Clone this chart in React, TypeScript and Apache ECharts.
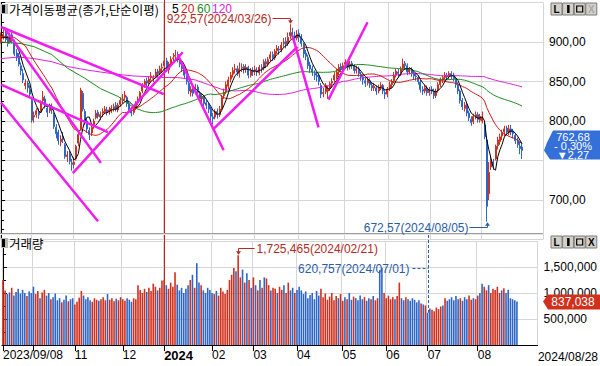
import React, { useEffect, useRef } from "react";
import * as echarts from "echarts";

// KRX trading days per month
const tradingDays: [string, number[]][] = [
  ["2023/09", [8, 11, 12, 13, 14, 15, 18, 19, 20, 21, 22, 25, 26, 27]],
  ["2023/10", [4, 5, 6, 10, 11, 12, 13, 16, 17, 18, 19, 20, 23, 24, 25, 26, 27, 30, 31]],
  ["2023/11", [1, 2, 3, 6, 7, 8, 9, 10, 13, 14, 15, 16, 17, 20, 21, 22, 23, 24, 27, 28, 29, 30]],
  ["2023/12", [1, 4, 5, 6, 7, 8, 11, 12, 13, 14, 15, 18, 19, 20, 21, 22, 26, 27, 28]],
  ["2024/01", [2, 3, 4, 5, 8, 9, 10, 11, 12, 15, 16, 17, 18, 19, 22, 23, 24, 25, 26, 29, 30, 31]],
  ["2024/02", [1, 2, 5, 6, 7, 8, 13, 14, 15, 16, 19, 20, 21, 22, 23, 26, 27, 28, 29]],
  ["2024/03", [4, 5, 6, 7, 8, 11, 12, 13, 14, 15, 18, 19, 20, 21, 22, 25, 26, 27, 28, 29]],
  ["2024/04", [1, 2, 3, 4, 5, 8, 9, 11, 12, 15, 16, 17, 18, 19, 22, 23, 24, 25, 26, 29, 30]],
  ["2024/05", [2, 3, 7, 8, 9, 10, 13, 14, 16, 17, 20, 21, 22, 23, 24, 27, 28, 29, 30, 31]],
  ["2024/06", [3, 4, 5, 7, 10, 11, 12, 13, 14, 17, 18, 19, 20, 21, 24, 25, 26, 27, 28]],
  ["2024/07", [1, 2, 3, 4, 5, 8, 9, 10, 11, 12, 15, 16, 17, 18, 19, 22, 23, 24, 25, 26, 29, 30, 31]],
  ["2024/08", [1, 2, 5, 6, 7, 8, 9, 12, 13, 14, 16, 19, 20, 21, 22, 23, 26, 27, 28]],
];

// [open, close, low, high]
const candlesSep = [[900,905,898,912],[906,910,903,916],[911,903,900,914],[904,898,894,908],[900,908,898,912],[909,902,898,913],[900,885,882,903],[886,880,876,891],[882,872,869,886],[870,864,858,874],[860,852,848,866],[845,848,840,853],[848,842,836,851],[840,834,830,845]];
const candlesOct = [[826,801,798,828],[805,807,798,812],[808,813,804,816],[812,808,803,816],[812,823,810,826],[826,830,822,838],[828,820,816,832],[816,811,805,820],[813,817,810,822],[818,814,809,822],[808,793,790,811],[792,784,778,796],[786,775,770,789],[774,777,768,782],[780,777,772,786],[770,755,752,772],[755,757,748,762],[758,749,745,762],[747,745,737,752]];
const candlesNov = [[745,748,740,754],[752,768,750,770],[772,783,768,786],[790,839,788,842],[835,815,812,838],[812,798,795,815],[800,790,785,803],[788,783,776,792],[785,792,781,796],[793,800,790,803],[804,810,802,814],[811,806,803,814],[805,808,801,812],[810,812,805,816],[812,815,809,819],[814,811,807,818],[812,814,808,818],[813,816,810,820],[816,818,812,822],[820,815,812,824],[814,820,811,823],[821,826,818,830]];
const candlesDec = [[826,828,822,834],[830,833,826,838],[830,822,818,832],[822,815,811,825],[814,810,806,818],[811,816,808,819],[817,822,814,825],[823,828,820,831],[828,836,825,838],[838,845,835,848],[846,850,842,853],[851,848,844,855],[849,853,846,857],[855,857,851,862],[854,855,849,858],[857,862,854,866],[863,860,856,866],[861,866,858,870],[867,868,862,873]];
const candlesJan = [[870,876,866,880],[876,866,862,880],[865,872,860,875],[872,878,868,882],[879,880,874,886],[882,883,876,890],[884,878,874,888],[879,872,868,883],[872,866,862,876],[866,858,854,868],[858,850,846,861],[848,838,834,851],[836,840,831,844],[841,835,831,845],[838,842,834,847],[843,836,832,846],[835,828,824,838],[828,830,822,834],[830,822,818,833],[823,820,815,827],[820,815,810,823],[815,806,800,818]];
const candlesFeb = [[805,803,796,810],[805,812,802,815],[812,808,803,816],[808,815,805,819],[816,830,814,833],[832,836,828,841],[837,846,834,850],[844,852,840,856],[853,858,849,862],[859,864,855,868],[865,866,860,872],[866,862,857,870],[860,866,855,874],[867,868,862,873],[869,865,860,872],[866,868,861,872],[868,858,854,870],[858,864,855,867],[864,862,857,868]];
const candlesMar = [[864,865,858,870],[864,862,857,868],[861,868,858,871],[868,866,861,872],[867,875,864,878],[875,872,867,879],[872,878,869,881],[879,884,875,888],[884,880,876,888],[880,888,877,891],[889,892,885,896],[891,890,884,895],[890,896,887,900],[898,900,894,905],[901,897,892,906],[898,906,895,912],[908,912,904,922.57],[912,908,903,918],[908,905,900,913],[905,910,902,915]];
const candlesApr = [[911,906,900,916],[906,898,894,910],[897,885,880,899],[886,882,877,890],[880,870,866,884],[871,866,861,875],[866,862,857,870],[860,858,852,864],[858,856,850,862],[856,850,845,860],[845,834,829,848],[835,836,830,842],[837,845,834,848],[838,840,828,845],[841,847,838,850],[848,850,843,854],[852,858,849,862],[856,862,853,866],[862,868,858,872],[869,866,862,873],[866,870,862,874]];
const candlesMay = [[872,874,866,878],[874,868,864,877],[870,872,865,876],[873,870,866,876],[869,864,860,872],[864,866,860,870],[866,860,856,869],[859,856,851,862],[856,852,846,859],[851,848,843,855],[848,852,845,856],[851,846,842,854],[845,842,838,849],[842,844,838,848],[842,838,833,845],[838,842,835,846],[843,845,839,849],[845,838,834,847],[836,834,828,839],[834,840,830,843]];
const candlesJun = [[841,846,838,850],[846,850,842,853],[851,858,848,862],[858,863,855,866],[862,860,855,866],[860,866,857,869],[867,872,864,879],[873,870,865,876],[870,862,858,873],[862,865,859,868],[865,860,856,868],[860,857,852,863],[857,856,851,861],[855,850,846,858],[849,840,836,852],[840,838,833,844],[838,842,835,846],[842,836,832,845],[836,840,832,843]];
const candlesJul = [[840,838,834,844],[838,832,828,841],[832,838,829,841],[839,846,836,849],[846,852,843,855],[852,855,848,858],[855,858,851,862],[858,856,852,861],[856,860,853,863],[860,858,853,863],[858,854,850,861],[853,846,842,856],[846,838,834,849],[838,826,822,840],[826,818,814,829],[816,820,812,824],[820,810,806,823],[810,804,800,813],[802,798,794,806],[799,806,796,809],[805,808,802,812],[808,802,798,811],[801,806,798,809]];
const candlesAug = [[800,804,797,812],[795,780,777,798],[776,692,672.57,779],[708,735,700,748],[742,750,738,756],[748,744,738,752],[752,768,750,770],[769,776,764,780],[774,780,770,784],[781,785,776,789],[786,790,781,794],[791,786,782,794],[785,790,782,795],[790,786,782,795],[787,784,778,790],[782,775,771,785],[776,770,766,779],[768,764.95,758,774],[767,762.68,752,772]];

const volSep = [1250000,1050000,980000,1010000,1100000,950000,1020000,1080000,990000,1060000,1000000,940000,1030000,1000000];
const volOct = [1120000,980000,1040000,900000,1010000,1060000,950000,1000000,880000,920000,990000,860000,900000,820000,870000,950000,840000,880000,900000];
const volNov = [780000,830000,910000,1040000,950000,880000,920000,860000,830000,900000,870000,850000,880000,920000,860000,980000,870000,900000,840000,890000,860000,920000];
const volDec = [880000,850000,900000,870000,830000,900000,880000,1150000,1060000,1000000,1080000,1020000,1100000,1040000,1180000,1120000,1050000,1100000,1240000];
const volJan = [1250000,1150000,1080000,1200000,1120000,1400000,1160000,1050000,1100000,1000000,1080000,1150000,1250000,1350000,1100000,1570000,1200000,1150000,1050000,1000000,1100000,1060000];
const volFeb = [1000000,980000,1040000,950000,1100000,1030000,980000,1060000,1250000,1350000,1480000,1420000,1725465,1300000,1450000,1200000,1380000,1250000,1100000];
const volMar = [1300000,1150000,1050000,1250000,1100000,1300000,1280000,1150000,1050000,1100000,1080000,1000000,1120000,1060000,1150000,1000000,1200000,1050000,1100000,1000000];
const volApr = [1060000,1120000,1050000,980000,1030000,900000,960000,1000000,880000,1040000,950000,1080000,920000,990000,870000,930000,1000000,860000,940000,900000,980000];
const volMay = [850000,920000,880000,1000000,870000,930000,900000,860000,950000,880000,920000,850000,900000,880000,940000,860000,900000,1440000,1480000,1000000];
const volJun = [900000,950000,880000,920000,880000,940000,1200000,900000,860000,920000,880000,850000,900000,870000,820000,860000,800000,780000,760000];
const volJul = [620757,700000,680000,650000,720000,690000,740000,760000,900000,850000,880000,920000,860000,940000,880000,900000,850000,920000,880000,950000,870000,900000,880000];
const volAug = [950000,1000000,1180000,1120000,1050000,1150000,1000000,1080000,1060000,1120000,1000000,1050000,1090000,1000000,1060000,900000,880000,860000,837038];

// moving-average values read before a full window exists: [dayIndex, value]
const ma5Head = [[0, 905], [2, 906]];
const ma20Head = [[0, 907], [6, 906], [11, 895], [15, 876]];
const ma60Head = [[0, 900], [9, 898], [15, 894], [23, 884], [30, 867], [38, 854], [45, 841], [53, 831], [57, 823]];
const ma120Head = [[0, 879], [8, 881], [15, 879], [23, 875], [30, 869], [38, 865], [45, 862], [53, 859], [60, 857], [68, 856], [74, 855], [80, 855], [88, 852], [94, 846], [100, 840], [106, 838], [112, 839], [117, 836]];

// hand-drawn trend lines: [dayIndex, price] endpoints
const trendLines = [
  [[0, 919], [73.7, 834]],
  [[1.4, 918], [45.2, 747]],
  [[0, 846], [48.4, 786]],
  [[0, 823], [43.9, 673]],
  [[32.5, 734], [82.3, 887]],
  [[80, 884], [100.8, 763]],
  [[95.9, 789], [134.3, 894]],
  [[132, 908], [143.8, 792]],
  [[148.3, 827], [166, 925]],
];

const maPeriods = [5, 20, 60, 120];
const maColors = ["#000000", "#cc1c1c", "#1e8a1e", "#e020e0"];
const hiddenMonthLabels = ["2023/10"];
const PAD = 9;

const dates = tradingDays.flatMap(([ym, ds]) => ds.map((d) => `${ym}/${String(d).padStart(2, "0")}`));
const candles = [...candlesSep, ...candlesOct, ...candlesNov, ...candlesDec, ...candlesJan, ...candlesFeb, ...candlesMar, ...candlesApr, ...candlesMay, ...candlesJun, ...candlesJul, ...candlesAug];
const volumes = [...volSep, ...volOct, ...volNov, ...volDec, ...volJan, ...volFeb, ...volMar, ...volApr, ...volMay, ...volJun, ...volJul, ...volAug];
const categories = [...dates, ...Array.from({ length: PAD }, (_, i) => `pad${i}`)];
const N = categories.length;
const closes = candles.map((c) => c[1]);

function movingAverage(period: number, head: number[][]) {
  const out = head.map((p) => [p[0], p[1]]);
  for (let i = period - 1; i < closes.length; i++) {
    let s = 0;
    for (let k = i - period + 1; k <= i; k++) s += closes[k];
    out.push([i, +(s / period).toFixed(2)]);
  }
  return out;
}

const monthStart = categories.map((d, i) => i < dates.length && (i === 0 || d.slice(0, 7) !== dates[i - 1].slice(0, 7)));

const UP = "#d2301c";
const DOWN = "#2d66c6";
const GRIDC = "#d6d6d6";
const FONT = "Liberation Sans, Arial, sans-serif";
const KFONT = "Noto Sans CJK KR, sans-serif";
const fmt2 = (v: number) => v.toFixed(2).replace(".", ",");
const fmtInt = (v: number) => Math.round(v).toLocaleString("en-US");

export default function App() {
  const ref = useRef<HTMLDivElement>(null);
  useEffect(() => {
    document.body.style.margin = "0";
    const chart = echarts.init(ref.current!, null, { renderer: "svg" });
    const lastClose = closes[closes.length - 1];
    const prevClose = closes[closes.length - 2];
    const heads = [ma5Head, ma20Head, ma60Head, ma120Head];

    const option: any = {
      animation: false,
      backgroundColor: "#ffffff",
      grid: [
        { left: -1, right: 57, top: 2.5, height: 237 },
        { left: -1, right: 57, top: 241, height: 104 },
      ],
      xAxis: [
        {
          type: "category", gridIndex: 0, data: categories, boundaryGap: true,
          axisLine: { show: false }, axisTick: { show: false }, axisLabel: { show: false },
          splitLine: { show: true, interval: (i: number) => monthStart[i], lineStyle: { color: GRIDC, width: 1 } },
        },
        { type: "value", gridIndex: 0, min: -0.5, max: N - 0.5, show: false },
        {
          type: "category", gridIndex: 1, data: categories, boundaryGap: true,
          axisLine: { show: true, lineStyle: { color: "#000", width: 1 } },
          axisTick: { show: true, alignWithLabel: true, interval: (i: number) => monthStart[i], length: 6, lineStyle: { color: "#000" } },
          axisLabel: {
            show: true,
            interval: (i: number) => monthStart[i] && !hiddenMonthLabels.includes(categories[i].slice(0, 7)),
            formatter: (v: string, i: number) => (i === 0 ? v : v.slice(5, 7) === "01" ? `{y|${v.slice(0, 4)}}` : v.slice(5, 7)),
            align: "left", margin: 4, color: "#000", fontSize: 12, fontFamily: FONT,
            rich: { y: { fontWeight: "bold", fontSize: 13, fontFamily: FONT, color: "#000" } },
          },
          splitLine: { show: true, interval: (i: number) => monthStart[i], lineStyle: { color: GRIDC, width: 1 } },
        },
        { type: "value", gridIndex: 1, min: -0.5, max: N - 0.5, show: false },
      ],
      yAxis: [
        {
          type: "value", gridIndex: 0, position: "right", min: 650, max: 950, interval: 50,
          axisLine: { show: true, lineStyle: { color: "#000" } },
          axisTick: { show: true, length: 4, lineStyle: { color: "#000" } },
          minorTick: { show: true, splitNumber: 4, length: 3, lineStyle: { color: "#000" } },
          axisLabel: {
            margin: 6, color: "#000", fontSize: 12, fontFamily: FONT,
            formatter: (v: number) => (v <= 650 || v >= 950 || Math.abs(v - lastClose) < 20 ? "" : fmt2(v)),
          },
          splitLine: { show: true, lineStyle: { color: GRIDC } },
        },
        {
          type: "value", gridIndex: 1, position: "right", min: 0, max: 2000000, interval: 500000,
          axisLine: { show: true, lineStyle: { color: "#000" } },
          axisTick: { show: true, length: 4, lineStyle: { color: "#000" } },
          minorTick: { show: true, splitNumber: 2, length: 3, lineStyle: { color: "#000" } },
          axisLabel: {
            margin: 6, color: "#000", fontSize: 12, fontFamily: FONT,
            formatter: (v: number) => (v === 0 || v >= 2000000 ? "" : fmtInt(v)),
          },
          splitLine: { show: true, lineStyle: { color: GRIDC } },
        },
      ],
      series: [
        {
          type: "candlestick", xAxisIndex: 0, yAxisIndex: 0, data: candles, barWidth: 1.5,
          itemStyle: { color: UP, color0: DOWN, borderColor: UP, borderColor0: DOWN, borderWidth: 1 },
          z: 2,
        },
        {
          type: "bar", xAxisIndex: 2, yAxisIndex: 1, barWidth: 1.6,
          data: volumes.map((v, i) => ({ value: v, itemStyle: { color: candles[i][1] >= candles[i][0] ? UP : DOWN } })),
        },
        ...[3, 2, 1, 0].map((k) => ({
          type: "line", xAxisIndex: 1, yAxisIndex: 0, data: movingAverage(maPeriods[k], heads[k]), symbol: "none",
          lineStyle: { color: maColors[k], width: 1 }, z: k === 0 ? 4 : 3,
        })),
        ...trendLines.map((t) => ({
          type: "line", xAxisIndex: 1, yAxisIndex: 0, data: t, symbol: "none",
          lineStyle: { color: "#f01cf0", width: 2.5 }, z: 5,
        })),
      ],
    };
    chart.setOption(option);

    const px = (i: number, v: number) => chart.convertToPixel({ xAxisIndex: 1, yAxisIndex: 0 }, [i, v]) as number[];
    const pv = (i: number, v: number) => chart.convertToPixel({ xAxisIndex: 3, yAxisIndex: 1 }, [i, v]) as number[];
    const crisp = (x: number) => Math.round(x) + 0.5;
    const g: any[] = [];
    const txt = (x: number, y: number, text: string, fill: string, align: string, size = 12, family = FONT, z = 100, weight = "normal") => ({
      type: "text", x, y, z,
      style: { text, fill, font: `${weight} ${size}px ${family}`, align, verticalAlign: "middle", textAlign: align, textVerticalAlign: "middle" },
    });
    const line = (x1: number, y1: number, x2: number, y2: number, stroke: string, extra: any = {}) => ({
      type: "line", z: 100, shape: { x1, y1, x2, y2 }, style: { stroke, lineWidth: 1, ...extra },
    });
    const tri = (pts: number[][], fill: string) => ({ type: "polygon", z: 100, shape: { points: pts }, style: { fill } });

    // separator between panels
    g.push({ type: "rect", z: 60, shape: { x: 0, y: 233, width: 543, height: 1 }, style: { fill: "#9c9c9c" } });
    g.push({ type: "rect", z: 60, shape: { x: 0, y: 234, width: 543, height: 1 }, style: { fill: "#e6e6e6" } });

    // year boundary
    const xYear = crisp(px(dates.indexOf("2024/01/02"), 800)[0]);
    g.push({ type: "line", z: 1, shape: { x1: xYear, y1: 0, x2: xYear, y2: 345 }, style: { stroke: "#c81e1e", lineWidth: 1 } });

    const midX = (px(0, 800)[0] + px(N - 1, 800)[0]) / 2;
    const RT = "#b42a24";
    const BT = "#2a5ca8";

    // highest / lowest price
    let iMax = 0, iMin = 0;
    candles.forEach((c, i) => { if (c[3] > candles[iMax][3]) iMax = i; if (c[2] < candles[iMin][2]) iMin = i; });
    {
      const [x0, y0] = px(iMax, candles[iMax][3]);
      const x = crisp(x0), yl = Math.round(y0 - 6) + 0.5;
      const left = x > midX;
      g.push(line(left ? x - 18 : x, yl, left ? x : x + 18, yl, RT));
      g.push(line(x, yl, x, y0 - 3, RT));
      g.push(tri([[x - 2.5, y0 - 4], [x + 2.5, y0 - 4], [x, y0 - 0.5]], RT));
      g.push(txt(left ? x - 19 : x + 19, yl, `${fmt2(candles[iMax][3])}(${dates[iMax]})`, RT, left ? "right" : "left"));
    }
    {
      const [x0, y0] = px(iMin, candles[iMin][2]);
      const x = crisp(x0), yl = Math.round(y0 + 5.5) + 0.5;
      const left = x > midX;
      g.push(line(left ? x - 18 : x, yl, left ? x : x + 18, yl, BT));
      g.push(line(x, yl, x, y0 + 3, BT));
      g.push(tri([[x - 2.5, y0 + 4], [x + 2.5, y0 + 4], [x, y0 + 0.5]], BT));
      g.push(txt(left ? x - 19 : x + 19, yl, `${fmt2(candles[iMin][2])}(${dates[iMin]})`, BT, left ? "right" : "left"));
    }
    // highest / lowest volume
    let vMax = 0, vMin = 0;
    volumes.forEach((v, i) => { if (v > volumes[vMax]) vMax = i; if (v < volumes[vMin]) vMin = i; });
    {
      const [x0, y0] = pv(vMax, volumes[vMax]);
      const x = crisp(x0), yl = Math.round(y0 - 7) + 0.5;
      const left = x > midX;
      g.push(line(left ? x - 16 : x, yl, left ? x : x + 16, yl, RT));
      g.push(line(x, yl, x, y0 - 3, RT));
      g.push(tri([[x - 2.5, y0 - 4], [x + 2.5, y0 - 4], [x, y0 - 0.5]], RT));
      g.push(txt(left ? x - 18 : x + 18, yl, `${fmtInt(volumes[vMax])}(${dates[vMax]})`, RT, left ? "right" : "left"));
    }
    {
      const [x0, y0] = pv(vMin, volumes[vMin]);
      const x = crisp(x0);
      const yl = 268.5;
      const left = x > midX;
      g.push(line(left ? x - 16 : x, yl, left ? x : x + 16, yl, BT, { lineDash: [3, 2] }));
      g.push(line(x, 235, x, y0, BT, { lineDash: [3, 2] }));
      g.push(txt(left ? x - 19 : x + 19, yl, `${fmtInt(volumes[vMin])}(${dates[vMin]})`, BT, left ? "right" : "left"));
    }

    // last price tag
    {
      const yc = px(closes.length - 1, lastClose)[1];
      const top = yc - 20, bot = yc + 9;
      g.push({ type: "polygon", z: 110, shape: { points: [[553, top], [600, top], [600, bot], [550, bot], [544, yc], [547, yc - 8]] }, style: { fill: "#3570d8" } });
      const ch = lastClose - prevClose;
      g.push(txt(573, yc - 13.5, fmt2(lastClose), "#fff", "center", 11, FONT, 130));
      g.push(txt(573, yc - 4.5, `${ch < 0 ? "-" : "+"} ${fmt2(Math.abs((ch / prevClose) * 100))}%`, "#fff", "center", 11, FONT, 130));
      g.push(txt(573, yc + 4.5, `${ch < 0 ? "▼" : "▲"}${fmt2(Math.abs(ch))}`, "#fff", "center", 11, FONT, 130));
    }
    // last volume tag
    {
      const lv = volumes[volumes.length - 1];
      const yv = pv(volumes.length - 1, lv)[1];
      g.push({ type: "polygon", z: 110, shape: { points: [[548, yv - 7], [600, yv - 7], [600, yv + 8], [548, yv + 8], [543, yv]] }, style: { fill: "#d2301c" } });
      g.push(txt(573, yv + 0.5, fmtInt(lv), "#fff", "center", 12, FONT, 130));
    }

    // panel titles
    const icon = (x: number, y: number) => [
      { type: "rect", z: 100, shape: { x, y, width: 7, height: 10 }, style: { fill: "#b8b8b8" } },
      { type: "rect", z: 101, shape: { x: x + 1, y: y + 1, width: 3, height: 8 }, style: { fill: "#000" } },
    ];
    g.push(...icon(1, 4));
    g.push(txt(9, 9, "가격이동평균(종가,단순이평)", "#000", "left", 12.5, KFONT));
    const maLabelX = [172, 181, 197, 212];
    maPeriods.forEach((p, k) => g.push(txt(maLabelX[k], 8.5, String(p), maColors[k], "left", 12, FONT)));
    g.push(...icon(1, 238));
    g.push(txt(9, 243, "거래량", "#000", "left", 12.5, KFONT));

    // window buttons
    const buttons = (y0: number, xDisabled: boolean) => {
      const out: any[] = [];
      for (let k = 0; k < 4; k++) {
        const bx = 551 + k * 11.6;
        out.push({ type: "rect", z: 120, shape: { x: bx, y: y0, width: 11, height: 12 }, style: { fill: "#d4d0c8", stroke: "#7a7a7a", lineWidth: 1 } });
        const cx = bx + 5.5, cy = y0 + 6;
        if (k === 0) out.push(txt(cx, cy + 0.5, "L", "#000", "center", 10, FONT, 125, "bold"));
        if (k === 1) out.push({ type: "rect", z: 125, shape: { x: cx - 1, y: cy - 4, width: 2.5, height: 8 }, style: { fill: "#000" } });
        if (k === 2) out.push({ type: "rect", z: 125, shape: { x: cx - 3, y: cy - 3, width: 6, height: 6 }, style: { fill: "none", stroke: "#000", lineWidth: 1.2 } });
        if (k === 3) out.push(txt(cx, cy + 0.5, "X", xDisabled ? "#a8a8a8" : "#000", "center", 10, FONT, 125, "bold"));
      }
      return out;
    };
    g.push(...buttons(3, true));
    g.push(...buttons(236, false));

    // last date label
    g.push(txt(598, 357, dates[dates.length - 1], "#000", "right", 12));

    chart.setOption({ graphic: g });
    return () => chart.dispose();
  }, []);
  return <div ref={ref} style={{ position: "absolute", left: 0, top: 0, width: 600, height: 366 }} />;
}
